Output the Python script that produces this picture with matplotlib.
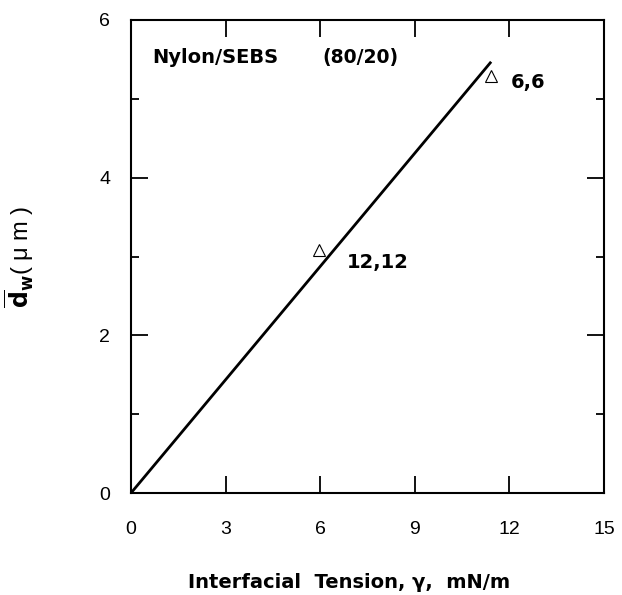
import matplotlib
matplotlib.use("Agg")
import matplotlib.pyplot as plt
from matplotlib.ticker import MultipleLocator

# data
fit_x = [0.0, 11.42]
fit_y = [0.0, 5.47]
pts_x = [5.96, 11.42]
pts_y = [3.08, 5.29]
pt_labels = ["12,12", "6,6"]
label_x = [6.85, 12.05]
label_y = [2.93, 5.21]
xticks = [0, 3, 6, 9, 12, 15]
yticks = [0, 2, 4, 6]

plt.rcParams['font.family'] = ['Liberation Sans', 'DejaVu Sans']
plt.rcParams['mathtext.fontset'] = 'custom'
plt.rcParams['mathtext.rm'] = 'DejaVu Sans'
plt.rcParams['mathtext.bf'] = 'DejaVu Sans:bold'

bold_font = ['DejaVu Sans']

fig = plt.figure(figsize=(6.22, 5.95), dpi=100)
ax = fig.add_axes([0.2106, 0.1714, 0.7605, 0.795])

ax.plot(fit_x, fit_y, color='black', lw=2.0, solid_capstyle='butt')
ax.plot(pts_x, pts_y, linestyle='none', marker='^', markersize=8,
        markerfacecolor='white', markeredgecolor='black', markeredgewidth=0.8)
for x, y, t in zip(label_x, label_y, pt_labels):
    ax.text(x, y, t, fontsize=14, fontweight='bold', family=bold_font,
            ha='left', va='center')

ax.text(0.67, 5.53, "Nylon/SEBS", fontsize=14, fontweight='bold', family=bold_font,
        ha='left', va='center')
ax.text(6.06, 5.53, "(80/20)", fontsize=13.5, fontweight='bold', family=bold_font,
        ha='left', va='center')

ax.set_xlim(0, 15)
ax.set_ylim(0, 6)
ax.set_xticks(xticks)
ax.set_yticks(yticks)
ax.yaxis.set_minor_locator(MultipleLocator(1))
ax.tick_params(axis='both', which='major', direction='in', length=12, width=1.3,
               top=True, right=True, labelsize=14)
ax.tick_params(axis='y', which='minor', direction='in', length=6, width=1.3,
               left=True, right=True)
ax.tick_params(axis='x', which='major', pad=20)
ax.tick_params(axis='y', which='major', pad=15)
for s in ax.spines.values():
    s.set_linewidth(1.5)

ax.set_xlabel("Interfacial  Tension, \u03b3,  mN/m", fontsize=14, fontweight='bold',
              family=bold_font)
ax.xaxis.set_label_coords(0.461, -0.170)
ax.set_ylabel(r"$\mathbf{\overline{d}_w}$( " + "\u03bc m )", fontsize=17)
ax.yaxis.set_label_coords(-0.20, 0.5)

fig.savefig("out.png", dpi=100)
